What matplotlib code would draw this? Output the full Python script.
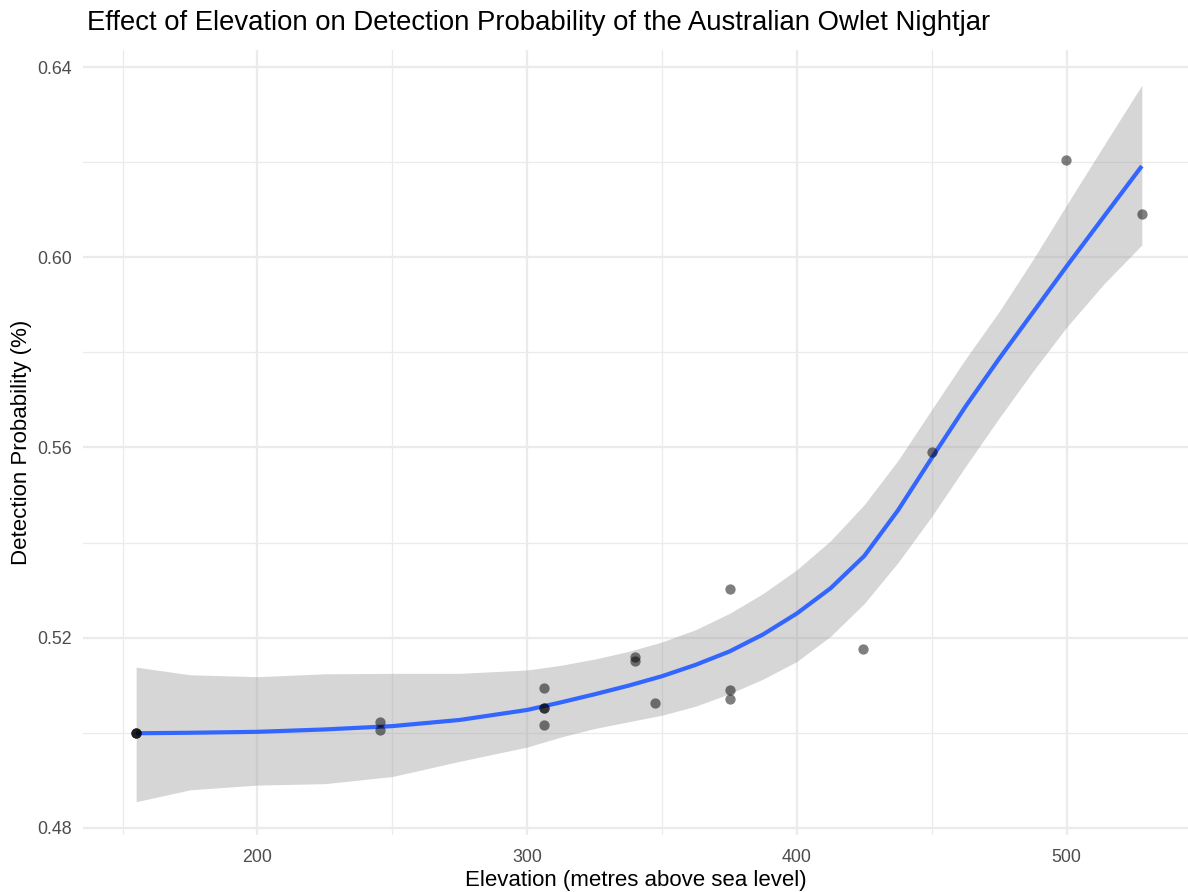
import numpy as np
import matplotlib
matplotlib.use("Agg")
import matplotlib.pyplot as plt
from matplotlib.ticker import MultipleLocator

# =========================
# DATA
# =========================
elevation = [155, 155, 155, 245.4, 245.4, 306.2, 306.2, 306.2, 306.2,
             340.0, 340.0, 347.4, 375.2, 375.2, 375.2, 424.4, 450.0,
             499.8, 527.9]
detection = [0.5000, 0.5000, 0.5000, 0.5022, 0.5005, 0.5094, 0.5052,
             0.5052, 0.5017, 0.5159, 0.5152, 0.5062, 0.5302, 0.5089,
             0.5071, 0.5176, 0.5591, 0.6204, 0.6092]

# smoothed trend (loess) and its 95% band
smooth_x = [155, 175, 200, 225, 250, 275, 300, 312.5, 325, 337.5, 350,
            362.5, 375, 387.5, 400, 412.5, 425, 437.5, 450, 462.5, 475,
            487.5, 500, 514, 527.9]
smooth_y = [0.4999, 0.5000, 0.5002, 0.5007, 0.5014, 0.5027, 0.5048,
            0.5064, 0.5081, 0.5099, 0.5119, 0.5143, 0.5171, 0.5207,
            0.5251, 0.5304, 0.5372, 0.5468, 0.5578, 0.5686, 0.5787,
            0.5884, 0.5981, 0.6087, 0.6192]
band_hi = [0.5138, 0.5122, 0.5118, 0.5124, 0.5125, 0.5125, 0.5132,
           0.5142, 0.5155, 0.5171, 0.5191, 0.5217, 0.5251, 0.5293,
           0.5343, 0.5404, 0.5480, 0.5573, 0.5680, 0.5786, 0.5886,
           0.5995, 0.6110, 0.6237, 0.6362]
band_lo = [0.4855, 0.4880, 0.4890, 0.4893, 0.4908, 0.4940, 0.4970,
           0.4991, 0.5009, 0.5023, 0.5037, 0.5056, 0.5082, 0.5113,
           0.5150, 0.5203, 0.5272, 0.5358, 0.5455, 0.5560, 0.5662,
           0.5760, 0.5853, 0.5945, 0.6026]

# =========================
# FIGURE
# =========================
plt.rcParams["font.family"] = ["Liberation Sans", "DejaVu Sans"]

W, H = 1188, 892
fig = plt.figure(figsize=(W / 100, H / 100), dpi=100)
left, right, top, bottom = 83, 1188, 50, 835
ax = fig.add_axes([left / W, 1 - bottom / H, (right - left) / W, (bottom - top) / H])

ax.fill_between(smooth_x, band_lo, band_hi, color="#999999", alpha=0.4,
                linewidth=0, zorder=2)
ax.plot(smooth_x, smooth_y, color="#3366FF", linewidth=3, zorder=3,
        solid_capstyle="butt", solid_joinstyle="round")
ax.scatter(elevation, detection, s=55, color="black", alpha=0.5,
           linewidths=0, zorder=4)

# axes limits matched to reference pixel scale
ax.set_xlim(135.3, 135.3 + (right - left) / 2.697)
ax.set_ylim(0.4785, 0.6436)

ax.xaxis.set_major_locator(MultipleLocator(100))
ax.xaxis.set_minor_locator(MultipleLocator(50))
ax.yaxis.set_major_locator(MultipleLocator(0.04))
ax.yaxis.set_minor_locator(MultipleLocator(0.02))
ax.yaxis.set_major_formatter(plt.FuncFormatter(lambda v, p: f"{v:.2f}"))

ax.grid(which="major", color="#EBEBEB", linewidth=1.6, zorder=0)
ax.grid(which="minor", color="#EBEBEB", linewidth=0.9, zorder=0)
ax.set_axisbelow(True)
for s in ax.spines.values():
    s.set_visible(False)
ax.tick_params(which="both", length=0, labelsize=12.8, labelcolor="#4D4D4D")
ax.tick_params(axis="x", pad=10)
ax.tick_params(axis="y", pad=8)

ax.set_xlabel("Elevation (metres above sea level)", fontsize=16, labelpad=3)
ax.set_ylabel("Detection Probability (%)", fontsize=16, labelpad=4)
fig.text(87 / W, 1 - 23 / H, "Effect of Elevation on Detection Probability of the Australian Owlet Nightjar",
         fontsize=19.8, ha="left", va="center")

fig.savefig("out.png", dpi=100)
